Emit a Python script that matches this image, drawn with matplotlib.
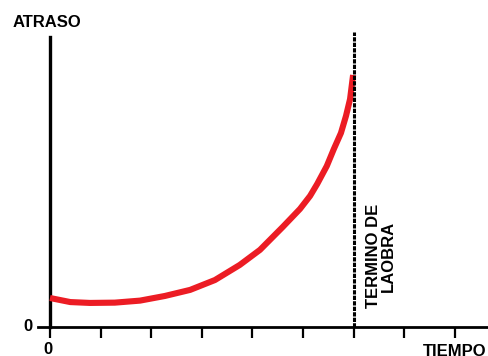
import matplotlib.pyplot as plt

plt.rcParams['font.family'] = ['Liberation Sans', 'DejaVu Sans']
plt.rcParams['font.weight'] = 'bold'

# curve (x in tick units, y in arbitrary units)
tiempo = [0.00, 0.40, 0.79, 1.28, 1.78, 2.27, 2.77, 3.26, 3.75, 4.15,
          4.60, 4.94, 5.14, 5.28, 5.47, 5.61, 5.75, 5.85, 5.93, 5.99]
atraso = [1.00, 0.86, 0.83, 0.84, 0.91, 1.07, 1.28, 1.62, 2.14, 2.66,
          3.45, 4.07, 4.52, 4.93, 5.55, 6.14, 6.69, 7.28, 7.86, 8.69]
fin_obra = 6
x_ticks = [0, 1, 2, 3, 4, 5, 6, 7, 8]

fig = plt.figure(figsize=(4.88, 3.56), dpi=100)
ax = fig.add_axes([38 / 488, 29 / 356, 450 / 488, 297 / 356])
ax.set_xlim(-12 / 50.6, 438 / 50.6)
ax.set_ylim(0, 297 / 29)

# axes
for side in ['top', 'right']:
    ax.spines[side].set_visible(False)
ax.spines['left'].set_position(('data', 0))
ax.spines['left'].set_bounds(0, 10)
ax.spines['left'].set_linewidth(2.4)
ax.spines['bottom'].set_linewidth(2.0)

ax.set_xticks(x_ticks)
ax.set_xticklabels([])
ax.set_yticks([])
ax.tick_params(axis='x', direction='out', length=8, width=1.6, color='black')

# curve and end-of-work line
ax.plot(tiempo, atraso, color='#ec1c24', lw=4.4, solid_capstyle='butt',
        solid_joinstyle='round', zorder=3)
ax.plot([fin_obra, fin_obra], [0, 10.17], color='black', lw=2.2,
        linestyle=(0, (1.4, 0.4)), clip_on=False, zorder=4)

# texts
fs = 12
fig.text(13 / 488, 1 - 27 / 356, 'ATRASO', fontsize=fs, fontweight='bold',
         ha='left', va='baseline')
fig.text(48 / 488, 1 - 354 / 356, '0', fontsize=fs, fontweight='bold',
         ha='center', va='baseline')
fig.text(27.5 / 488, 1 - 331 / 356, '0', fontsize=fs, fontweight='bold',
         ha='center', va='baseline')
fig.text(423 / 488, 1 - 356 / 356, 'TIEMPO', fontsize=fs, fontweight='bold',
         ha='left', va='baseline')
fig.text(381 / 488, 1 - 256 / 356, 'TERMINO DE\nLAOBRA', fontsize=fs,
         fontweight='bold', rotation=90, ha='center', va='center',
         multialignment='center', linespacing=1.0)

fig.savefig('out.png', dpi=100)
